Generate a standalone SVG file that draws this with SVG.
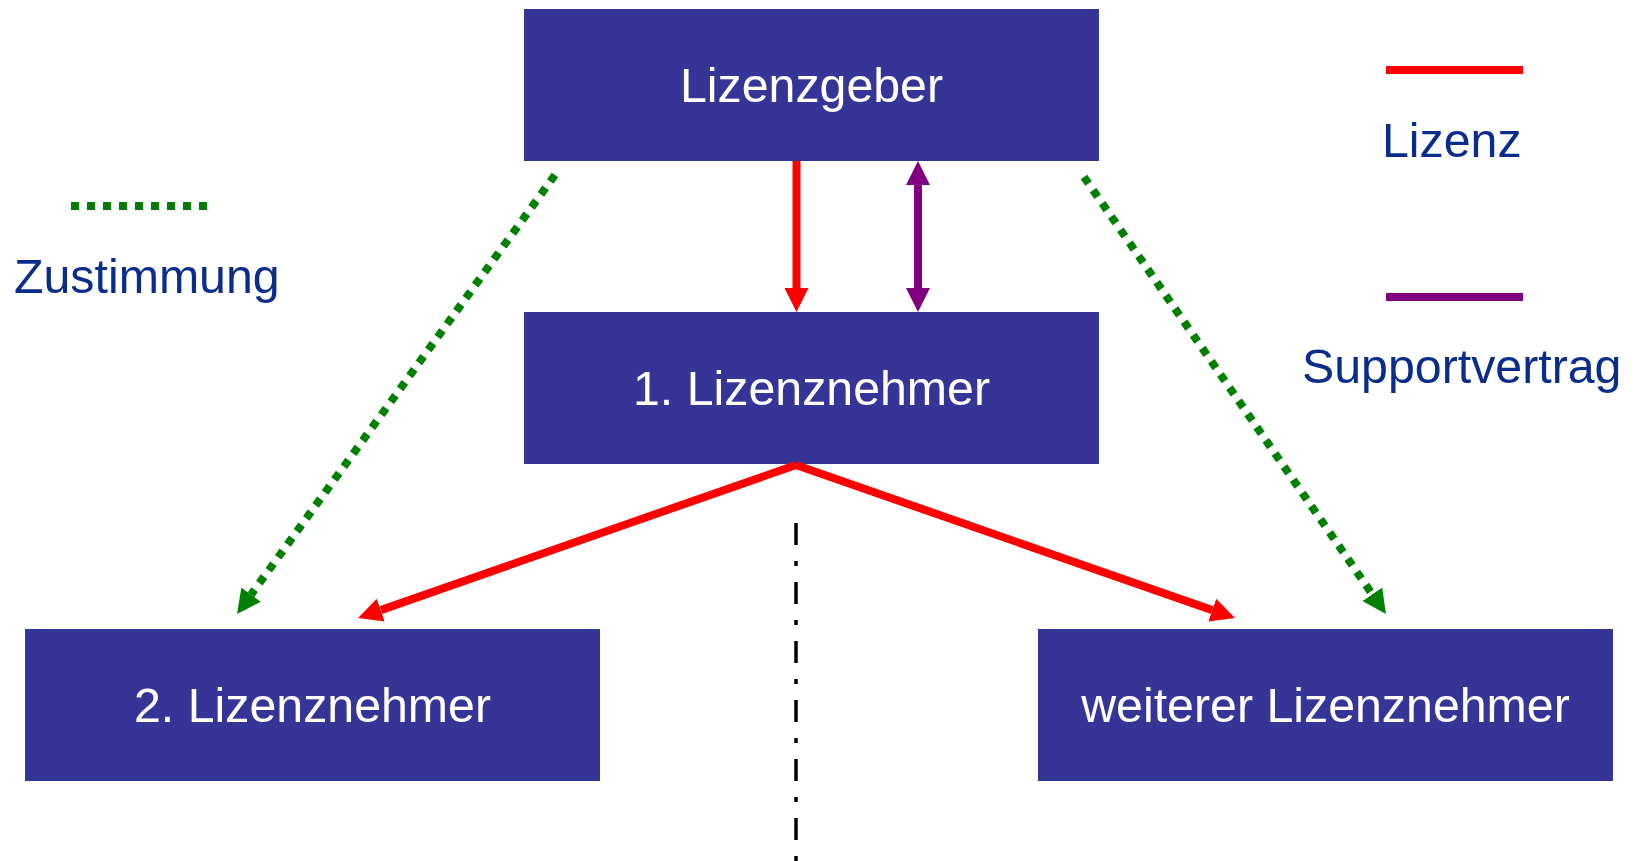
<svg xmlns="http://www.w3.org/2000/svg" width="1635" height="861" viewBox="0 0 1635 861">
<style>
.box{fill:#353597}
.nt{font-family:"Liberation Sans",Arial,sans-serif;font-size:48.3px;fill:#ffffff;text-anchor:middle}
.lt{font-family:"Liberation Sans",Arial,sans-serif;font-size:48.3px;fill:#0a2d8c}
.red{stroke:#ff0000;stroke-width:8;fill:none}
.pur{stroke:#800080;stroke-width:8;fill:none}
.grn{stroke:#008000;stroke-width:8;fill:none;stroke-dasharray:8 8}
.dd{stroke:#000000;stroke-width:3.5;fill:none;stroke-dasharray:22 16 5 16}
</style>
<defs>
<marker id="ahR" markerUnits="userSpaceOnUse" markerWidth="26" markerHeight="26" viewBox="0 -13 26 26" refX="0" refY="0" orient="auto"><path d="M0,-12 L24,0 L0,12 z" fill="#ff0000"/></marker>
<marker id="ahP" markerUnits="userSpaceOnUse" markerWidth="26" markerHeight="26" viewBox="0 -13 26 26" refX="0" refY="0" orient="auto-start-reverse"><path d="M0,-12 L24,0 L0,12 z" fill="#800080"/></marker>
<marker id="ahG" markerUnits="userSpaceOnUse" markerWidth="26" markerHeight="26" viewBox="0 -13 26 26" refX="0" refY="0" orient="auto"><path d="M0,-12 L24,0 L0,12 z" fill="#008000"/></marker>
</defs>
<rect width="1635" height="861" fill="#ffffff"/>
<g id="lizenzgeber"><rect class="box" x="524" y="9" width="575" height="152"/><text class="nt" x="811.5" y="102">Lizenzgeber</text></g>
<g id="lizenznehmer1"><rect class="box" x="524" y="312" width="575" height="152"/><text class="nt" x="811.5" y="405">1. Lizenznehmer</text></g>
<g id="lizenznehmer2"><rect class="box" x="25" y="629" width="575" height="152"/><text class="nt" x="312.5" y="722">2. Lizenznehmer</text></g>
<g id="weiterer"><rect class="box" x="1038" y="629" width="575" height="152"/><text class="nt" x="1325.5" y="722">weiterer Lizenznehmer</text></g>
<g id="connectors">
<line class="red" x1="796.5" y1="161" x2="796.5" y2="288" marker-end="url(#ahR)"/>
<line class="pur" x1="918" y1="185" x2="918" y2="288" marker-start="url(#ahP)" marker-end="url(#ahP)"/>
<line class="red" x1="796" y1="465" x2="380.7" y2="610.1" marker-end="url(#ahR)"/>
<line class="red" x1="796" y1="465" x2="1212.3" y2="610.1" marker-end="url(#ahR)"/>
<line class="grn" x1="555" y1="175" x2="251.1" y2="594.6" marker-end="url(#ahG)"/>
<line class="grn" x1="1084" y1="177" x2="1372.3" y2="594.3" marker-end="url(#ahG)"/>
<line class="dd" x1="796" y1="523" x2="796" y2="861"/>
</g>
<g id="legend">
<line class="grn" x1="71" y1="206" x2="207" y2="206"/>
<text class="lt" x="14" y="293">Zustimmung</text>
<line class="red" x1="1386" y1="70" x2="1523" y2="70"/>
<text class="lt" x="1382" y="157">Lizenz</text>
<line class="pur" x1="1386" y1="297" x2="1523" y2="297"/>
<text class="lt" x="1302" y="383">Supportvertrag</text>
</g>
</svg>
